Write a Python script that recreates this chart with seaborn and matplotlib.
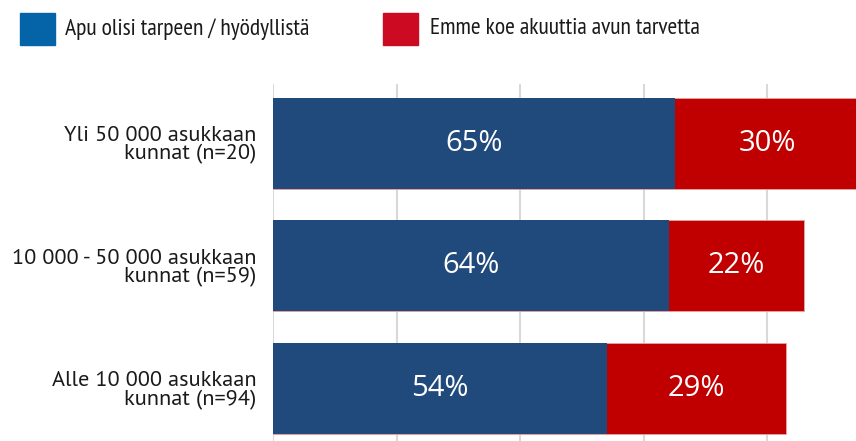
import matplotlib
matplotlib.use("Agg")
import matplotlib.pyplot as plt
import seaborn as sns
import pandas as pd
from matplotlib.patches import Rectangle

categories = ["Yli 50 000 asukkaan\nkunnat (n=20)",
              "10 000 - 50 000 asukkaan\nkunnat (n=59)",
              "Alle 10 000 asukkaan\nkunnat (n=94)"]
apu = [65, 64, 54]
emme = [30, 22, 29]
series_names = ["Apu olisi tarpeen / hyödyllistä", "Emme koe akuuttia avun tarvetta"]

bar_blue = "#214a7c"
bar_red = "#c00000"
leg_blue = "#0563a8"
leg_red = "#cc0a22"

sns.set_theme(style="white")
W, H = 856, 441
fig = plt.figure(figsize=(W / 100, H / 100), dpi=100)

x0, x1 = 273, 856
y_top, y_bot = 84, 441
ax = fig.add_axes([x0 / W, 1 - y_bot / H, (x1 - x0) / W, (y_bot - y_top) / H])

df = pd.DataFrame({"cat": categories, "apu": apu, "emme": emme})
df["total"] = df["apu"] + df["emme"]

sns.barplot(data=df, y="cat", x="total", color=bar_red, orient="h", width=0.743,
            saturation=1, ax=ax, edgecolor="#e6a5a5", linewidth=0.6)
sns.barplot(data=df, y="cat", x="apu", color=bar_blue, orient="h", width=0.743,
            saturation=1, ax=ax, linewidth=0)

pitch = 122.5
ax.set_xlim(0, (x1 - x0) / 6.18)
ax.set_ylim(2 + (y_bot - 388.5) / pitch, -0.5 + (y_top - 82) / pitch)
ax.set_xticks([0, 20, 40, 60, 80])
ax.xaxis.grid(True, color="#d9d9d9", linewidth=1.5)
ax.set_axisbelow(True)
for s in ax.spines.values():
    s.set_visible(False)
ax.set_xlabel("")
ax.set_ylabel("")
ax.tick_params(axis="x", length=0, labelbottom=False)
ax.tick_params(axis="y", length=0, pad=12)
ax.set_yticks(range(len(categories)))
ax.set_yticklabels(categories, fontsize=16,
                   family=["PT Sans", "DejaVu Sans"],
                   color="#1a1a1a", linespacing=0.95, ha="right")

val_font = ["Open Sans", "DejaVu Sans"]
for i, (a, e) in enumerate(zip(apu, emme)):
    ax.text(a / 2, i, f"{a}%", ha="center", va="center", color="white",
            fontsize=21, family=val_font)
    ax.text(a + e / 2, i, f"{e}%", ha="center", va="center", color="white",
            fontsize=21, family=val_font)

leg_font = ["PT Sans Narrow", "DejaVu Sans"]
for (sx, tx, col, name) in [(20, 65, leg_blue, series_names[0]),
                            (383, 430, leg_red, series_names[1])]:
    fig.patches.append(Rectangle((sx / W, 1 - 45 / H), 35 / W, 32 / H,
                                 transform=fig.transFigure, color=col))
    fig.text(tx / W, 1 - 29 / H, name, ha="left", va="center",
             fontsize=17, family=leg_font, color="#1a1a1a")

fig.savefig("out.png", dpi=100)
